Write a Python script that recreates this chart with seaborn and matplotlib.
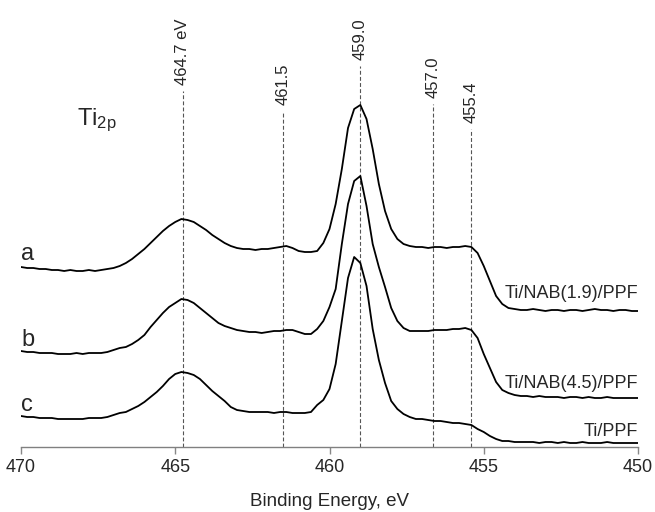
import numpy as np
import pandas as pd
import matplotlib
matplotlib.use("Agg")
import matplotlib.pyplot as plt
import seaborn as sns

# Binding energy grid (eV), 0.2 eV steps from 470 down to 450
energy = np.round(np.linspace(470, 450, 101), 1)

# Stacked Ti 2p spectra (arbitrary units, as plotted)
spec_a = [180, 179, 179, 178, 178, 177, 177, 176, 177, 176, 176, 177, 176, 177, 178, 179, 181,
          184, 188, 193, 198, 204, 210, 216, 221, 225, 228, 227, 225, 221, 217, 212, 208, 204,
          201, 199, 198, 198, 197, 198, 198, 199, 200, 201, 199, 196, 195, 195, 196, 204, 218,
          243, 278, 319, 338, 342, 328, 298, 263, 236, 218, 208, 203, 201, 200, 200, 199, 200,
          200, 199, 200, 200, 201, 200, 194, 181, 166, 151, 143, 139, 138,
          137, 137, 138, 137, 136, 137, 137, 136, 137, 137, 136, 137, 138, 137, 137, 136, 137,
          137, 136, 136]
spec_b = [96, 95, 95, 94, 94, 94, 93, 93, 93, 94, 93, 94, 94, 94, 95, 97, 99,
          100, 103, 107, 112, 120, 127, 134, 140, 144, 148, 147, 144, 139, 134, 129, 124, 121,
          119, 117, 116, 115, 115, 114, 115, 116, 116, 117, 117, 115, 113, 113, 118, 126, 140,
          158, 203, 243, 266, 271, 241, 203, 180, 160, 139, 126, 119, 116, 116, 116, 116, 117,
          117, 117, 118, 118, 119, 117, 109, 93, 79, 65, 57, 54, 52,
          51, 51, 50, 51, 50, 50, 50, 49, 50, 50, 49, 50, 49, 49, 50, 49, 49, 49, 49, 49]
spec_c = [31, 30, 30, 29, 29, 29, 28, 28, 28, 28, 28, 29, 29, 29, 30, 32, 34,
          35, 38, 41, 45, 50, 55, 61, 68, 73, 75, 74, 72, 68, 62, 56, 51, 46,
          40, 37, 36, 35, 35, 35, 35, 34, 35, 35, 34, 34, 34, 35, 42, 47, 58,
          83, 126, 169, 190, 184, 161, 118, 87, 64, 46, 38, 33, 30, 28, 28, 27, 26,
          26, 25, 24, 24, 23, 22, 18, 15, 11, 8, 6, 6, 5,
          5, 5, 5, 4, 5, 5, 4, 5, 4, 4, 5, 4, 4, 4, 5, 4, 4, 4, 4, 4]

curve_letters = ["a", "b", "c"]
sample_names = ["Ti/NAB(1.9)/PPF", "Ti/NAB(4.5)/PPF", "Ti/PPF"]
letter_y = [187, 101, 36]
name_y = [153, 63, 15]

# Reference energies marked with dashed lines
ref_pos = [464.75, 461.5, 459.0, 456.65, 455.4]
ref_labels = ["464.7 eV", "461.5", "459.0", "457.0", "455.4"]
ref_top = [356, 336, 381, 343, 318]

df = pd.DataFrame({
    "energy": np.tile(energy, 3),
    "intensity": spec_a + spec_b + spec_c,
    "curve": np.repeat(curve_letters, len(energy)),
})

sns.set_style("white")
plt.rcParams["font.family"] = ["Liberation Sans", "DejaVu Sans"]
plt.rcParams["mathtext.default"] = "regular"

fig = plt.figure(figsize=(6.55, 5.12), dpi=100)
ax = fig.add_axes([21 / 655, 1 - 447 / 512, 617 / 655, 447 / 512])

# dashed reference lines
for pos, top in zip(ref_pos, ref_top):
    ax.plot([pos, pos], [0, top], color="#555555", lw=0.8, ls=(0, (3.5, 2)), zorder=1)
for pos, top, lab in zip(ref_pos, ref_top, ref_labels):
    ax.text(pos, top + 6, lab, rotation=90, ha="center", va="bottom", fontsize=12)

sns.lineplot(data=df, x="energy", y="intensity", hue="curve", units="curve",
             estimator=None, palette=["black"] * 3, lw=1.3, legend=False, ax=ax, zorder=3)

for let, y in zip(curve_letters, letter_y):
    ax.text(470, y, let, ha="left", va="baseline", fontsize=17)
for name, y in zip(sample_names, name_y):
    ax.text(450, y, name, ha="right", va="center", fontsize=13)

ax.text(468.2, 322, "Ti$_{2p}$", ha="left", va="baseline", fontsize=17)

ax.set_xlim(470, 450)
ax.set_ylim(0, 447)
ax.set_xticks([470, 465, 460, 455, 450])
ax.set_yticks([])
ax.tick_params(axis="x", direction="out", length=5, width=1, pad=4,
               labelsize=13, color="#888888", bottom=True)
for side in ["left", "right", "top"]:
    ax.spines[side].set_visible(False)
ax.spines["bottom"].set_color("#808080")
ax.spines["bottom"].set_linewidth(1)
ax.set_xlabel("Binding Energy, eV", fontsize=13.5, labelpad=12)
ax.set_ylabel("")
ax.patch.set_alpha(0)

fig.savefig("out.png", dpi=100)
